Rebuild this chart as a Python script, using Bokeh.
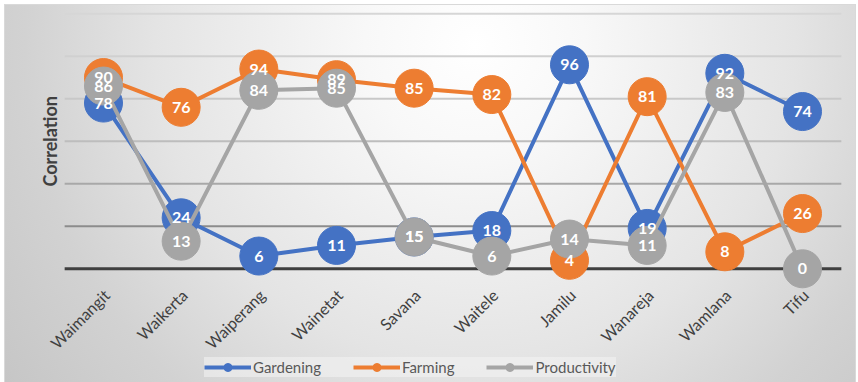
import math
from bokeh.plotting import figure
from bokeh.models import Range1d, Legend, LegendItem
from bokeh.core.properties import value
from bokeh.embed import file_html
from bokeh.resources import INLINE

categories = ["Waimangit", "Waikerta", "Waiperang", "Wainetat", "Savana",
              "Waitele", "Jamilu", "Wanareja", "Wamlana", "Tifu"]
gardening = [78, 24, 6, 11, 15, 18, 96, 19, 92, 74]
farming = [90, 76, 94, 89, 85, 82, 4, 81, 8, 26]
productivity = [86, 13, 84, 85, 15, 6, 14, 11, 83, 0]
series_names = ["Gardening", "Farming", "Productivity"]
grid_levels = [0, 20, 40, 60, 80, 100, 120]
y_title = "Correlation"

series_values = [gardening, farming, productivity]
series_colors = ["#4472C4", "#ED7D31", "#A5A5A5"]
grid_colors = ["#3f3f3f", "#8c8c8c", "#a8a8a8", "#bdbdbd", "#c8c8c8", "#d0d0d0", "#d6d6d6"]
grid_widths = [3, 2, 2, 2, 2, 2, 2]

FONT = "Lato"
xs = list(range(len(categories)))

bg = ("radial-gradient(circle at 470px 40px, #ffffff 0px, #f8f8f8 110px, #e4e4e4 320px, "
      "#d2d2d2 450px, #c2c2c2 620px) 5px 5px / 850px 377px no-repeat, "
      "linear-gradient(#d9d9d9, #d9d9d9) 4px 4px / 852px 378px no-repeat, #ffffff")

p = figure(width=858, height=382, title=None,
           x_range=Range1d(-1.326, 9.721), y_range=Range1d(-53.5, 126.26),
           x_axis_type=None, y_axis_type=None,
           output_backend="svg", toolbar_location=None,
           min_border=0, min_border_left=0, min_border_right=0,
           min_border_top=0, min_border_bottom=0)
p.styles = {"background": bg}
p.background_fill_color = None
p.border_fill_color = None
p.outline_line_color = None
p.xgrid.visible = False
p.ygrid.visible = False

# horizontal gridlines across the category bands
p.segment(x0=-0.5, x1=len(categories) - 0.5, y0=grid_levels, y1=grid_levels,
          line_color=grid_colors, line_width=grid_widths)

items = []
for name, vals, col in zip(series_names, series_values, series_colors):
    lr = p.line(x=xs, y=vals, line_color=col, line_width=4)
    sr = p.scatter(x=xs, y=vals, size=38, fill_color=col, line_color=col)
    items.append(LegendItem(label=name, renderers=[lr, sr]))

for vals in series_values:
    p.text(x=xs, y=vals, text=[str(v) for v in vals], text_align="center",
           text_baseline="middle", text_color="white", text_font=value(FONT),
           text_font_style="bold", text_font_size="16px")

# category tick labels
p.text(x=xs, y=-11, text=categories, angle=math.pi / 4, x_offset=3,
       text_align="right", text_baseline="middle", text_color="#404040",
       text_font=value(FONT), text_font_size="16px")

# y-axis title
p.text(x=-0.5, y=60, text=[y_title], angle=math.pi / 2, x_offset=-15,
       text_align="center", text_baseline="middle", text_color="#404040",
       text_font=value(FONT), text_font_style="bold", text_font_size="18px")

legend = Legend(items=items, orientation="horizontal", location=(204, 5),
                label_text_font=FONT, label_text_font_size="15px", label_text_color="#595959",
                glyph_width=47, glyph_height=20, label_height=20, spacing=32,
                label_standoff=2, padding=6, margin=0,
                background_fill_color="#f4f4f4", background_fill_alpha=0.55,
                border_line_color=None)
p.add_layout(legend)

open("out.html", "w").write(file_html(p, INLINE))
